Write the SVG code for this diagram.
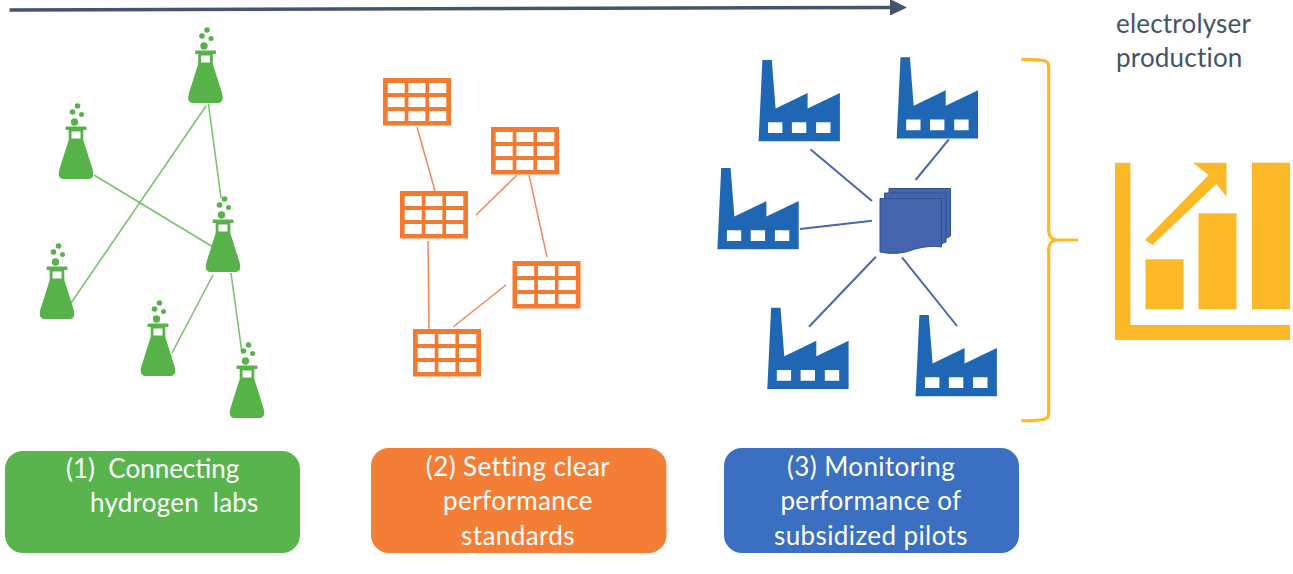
<svg xmlns="http://www.w3.org/2000/svg" width="1293" height="574" viewBox="0 0 1293 574">
<style>
text{font-family:"Lato","Open Sans","Liberation Sans",sans-serif}
.lbl{fill:#fff;font-size:26px;letter-spacing:.4px;text-anchor:middle}
.side{fill:#44546a;font-size:26px;letter-spacing:.2px}
.g{stroke:#7cc26e;stroke-width:1.6;fill:none}
.o{stroke:#f0885a;stroke-width:1.5;fill:none}
.b{stroke:#4a66b0;stroke-width:2;fill:none}
.flask{fill:#58b24a}
.tbl{fill:#f37a2e}
.fac{fill:#1f66b5}
.gold{fill:#fdb827}
</style>
<defs>
<g id="flask-icon" class="flask">
<circle cx="1.500" cy="-22" r="2.800"/><circle cx="-3.500" cy="-16" r="2.800"/><circle cx="5.500" cy="-13.500" r="2.500"/><circle cx="-1.500" cy="-6" r="3.700"/>
<rect x="-10.500" y="-1.500" width="21" height="3.500" rx="1"/>
<path fill-rule="evenodd" d="M-7.300,2L-7.300,12L-16.500,41Q-18,47-16.500,49Q-15,51-13,51L13,51Q15,51 16.500,49Q18,47 16.500,41L7.300,12L7.300,2ZM-4.500,3.500L4.500,3.500L4.500,10.500L-4.500,10.500Z"/>
</g>
<path id="table-icon" class="tbl" fill-rule="evenodd" d="M0,0H68V47.500H0ZM4.700,5V15H21.700V5ZM25.400,5V15H42.400V5ZM46,5V15H63.300V5ZM4.700,19V29H21.700V19ZM25.400,19V29H42.400V19ZM46,19V29H63.300V19ZM4.700,33V43H21.700V33ZM25.400,33V43H42.400V33ZM46,33V43H63.300V33Z"/>
<path id="factory-icon" class="fac" fill-rule="evenodd" d="M3.800,0H13.200L17,48.500L49,33V48.500L81.300,33V81.300H0ZM9.500,62.300V73H23.800V62.300ZM33.300,62.300V73H47.700V62.300ZM57.500,62.300V73H71.900V62.300Z"/>
</defs>
<rect width="1293" height="574" fill="#fff"/>

<g id="connectors">
<path d="M9.500,10L892,7.500" stroke="#44546a" stroke-width="3.500" fill="none"/>
<polygon points="890,-1 907,7.500 890,15.500" fill="#44546a"/>
<path class="g" d="M208.500,104L221,198"/>
<path class="g" d="M206,106L71,303"/>
<path class="g" d="M94,175L213,247"/>
<path class="g" d="M213,275L172,353"/>
<path class="g" d="M231,273L242,353"/>
<path class="o" d="M417,127L435,191"/>
<path class="o" d="M517,175L476,215"/>
<path class="o" d="M529,175L547,257"/>
<path class="o" d="M428,241L429,329"/>
<path class="o" d="M453,327L506,285"/>
<path class="b" d="M810.400,149.300L872,201"/>
<path class="b" d="M948.900,139.300L915.600,180"/>
<path class="b" d="M800,229L872,220.700"/>
<path class="b" d="M875.900,256.700L809,326.700"/>
<path class="b" d="M902,257.300L957,326"/>
</g>

<g id="lab-1"><use href="#flask-icon" x="205.500" y="52"/></g>
<g id="lab-2"><use href="#flask-icon" x="76" y="128"/></g>
<g id="lab-3"><use href="#flask-icon" x="57" y="268"/></g>
<g id="lab-4"><use href="#flask-icon" x="223" y="221"/></g>
<g id="lab-5"><use href="#flask-icon" x="158" y="325"/></g>
<g id="lab-6"><use href="#flask-icon" x="247" y="367"/></g>

<g id="standard-1"><use href="#table-icon" x="383" y="78"/></g>
<g id="standard-2"><use href="#table-icon" x="491" y="127"/></g>
<g id="standard-3"><use href="#table-icon" x="400" y="191"/></g>
<g id="standard-4"><use href="#table-icon" x="512.500" y="261"/></g>
<g id="standard-5"><use href="#table-icon" x="413" y="329"/></g>

<g id="pilot-1"><use href="#factory-icon" x="758.600" y="60"/></g>
<g id="pilot-2"><use href="#factory-icon" x="896.700" y="57.300"/></g>
<g id="pilot-3"><use href="#factory-icon" x="717.400" y="168"/></g>
<g id="pilot-4"><use href="#factory-icon" x="767.300" y="307.700"/></g>
<g id="pilot-5"><use href="#factory-icon" x="915.600" y="315"/></g>

<g id="documents" fill="#4464ae" stroke="#2f528f" stroke-width="1">
<path d="M889,188.500H950.500V236L947,238H889Z"/>
<path d="M884.500,193H946V242L941,244H884.500Z"/>
<path d="M880,198.500H941.500V247Q930,245 915,249Q898,256 880,252Z"/>
</g>

<g id="brace"><path d="M1021.500,59.500Q1038,59 1045,61Q1048.700,62 1048.700,68V230Q1048.700,239 1056,240H1078H1056Q1048.700,241 1048.700,250V412Q1048.700,418 1045,419Q1038,421 1021.500,420.700" fill="none" stroke="#fdb827" stroke-width="3.200"/></g>

<g id="growth-chart" class="gold">
<path d="M1115,162.700H1130.400V325H1290V340H1115Z"/>
<rect x="1145.500" y="259.300" width="38" height="50"/>
<rect x="1198.500" y="213.300" width="38" height="96"/>
<rect x="1252" y="162.700" width="38" height="146.600"/>
<polygon points="1192.800,162.700 1226.500,162.700 1226.500,196.700 1216.300,184 1152.700,245 1145,240 1208.700,175"/>
</g>

<g id="side-label">
<text class="side" x="1116" y="33">electrolyser</text>
<text class="side" x="1116" y="67">production</text>
</g>

<g id="step-1">
<rect x="5" y="451" width="295" height="102" rx="18" fill="#5ab44e"/>
<text class="lbl" style="text-anchor:start;letter-spacing:0" x="66" y="478" xml:space="preserve">(1)  Connecting</text>
<text class="lbl" style="text-anchor:start;letter-spacing:.25px" x="90" y="512" xml:space="preserve">hydrogen  labs</text>
</g>
<g id="step-2">
<rect x="371" y="448" width="295.500" height="105" rx="18" fill="#f47e36"/>
<text class="lbl" x="518" y="476">(2) Setting clear</text>
<text class="lbl" x="518" y="510">performance</text>
<text class="lbl" x="518" y="545">standards</text>
</g>
<g id="step-3">
<rect x="724" y="448" width="295" height="105" rx="18" fill="#3a6fc1"/>
<text class="lbl" x="871" y="476">(3) Monitoring</text>
<text class="lbl" x="871" y="510">performance of</text>
<text class="lbl" x="871" y="545">subsidized pilots</text>
</g>
</svg>
